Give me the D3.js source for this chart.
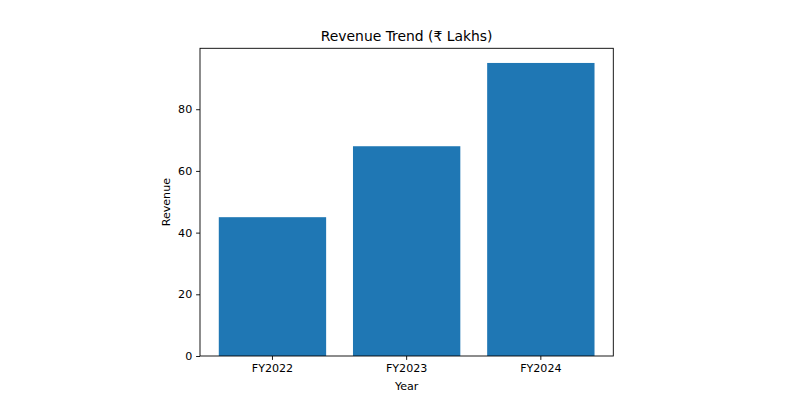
<!DOCTYPE html>
<html><head><meta charset="utf-8">
<script src="https://cdn.jsdelivr.net/npm/d3@7"></script>
<style>body{margin:0;background:#fff}svg text{font-family:"DejaVu Sans",sans-serif;fill:#000}</style>
</head><body><svg id="c" width="800" height="400"></svg>
<script>
const categories = ["FY2022","FY2023","FY2024"];
const revenue = [45, 68, 95];
const yTicks = [0,20,40,60,80];

const svg = d3.select("#c");
const L=200,R=613.3,T=48.3,B=356;
const x = d3.scaleBand().domain(categories).range([L,R]).paddingInner(0.2).paddingOuter(0.14);
const y = d3.scaleLinear().domain([0, d3.max(revenue)*1.05]).range([B,T]);

svg.append("g").selectAll("rect").data(revenue).join("rect")
  .attr("x",(d,i)=>x(categories[i])).attr("width",x.bandwidth())
  .attr("y",d=>y(d)).attr("height",d=>B-y(d)).attr("fill","#1f77b4");

svg.append("rect").attr("x",L).attr("y",T).attr("width",R-L).attr("height",B-T)
  .attr("fill","none").attr("stroke","#000").attr("stroke-width",0.9);

const xa = svg.append("g").attr("transform",`translate(0,${B})`)
  .call(d3.axisBottom(x).tickSize(3.9).tickPadding(3.9).tickSizeOuter(0));
const ya = svg.append("g").attr("transform",`translate(${L},0)`)
  .call(d3.axisLeft(y).tickValues(yTicks).tickSize(3.9).tickPadding(3.9).tickSizeOuter(0));
[xa,ya].forEach(a=>{a.select(".domain").remove();a.selectAll("line").attr("stroke","#000").attr("stroke-width",0.9);
  a.selectAll("text").attr("font-size","11.1px").attr("font-family","DejaVu Sans").attr("fill","#000");});

svg.append("text").attr("x",(L+R)/2).attr("y",41).attr("text-anchor","middle").attr("font-size","13.9px").text("Revenue Trend (₹ Lakhs)");
svg.append("text").attr("x",(L+R)/2).attr("y",389.5).attr("text-anchor","middle").attr("font-size","11.1px").text("Year");
svg.append("text").attr("transform",`translate(170,${(T+B)/2}) rotate(-90)`).attr("text-anchor","middle").attr("font-size","11.1px").text("Revenue");
</script></body></html>
